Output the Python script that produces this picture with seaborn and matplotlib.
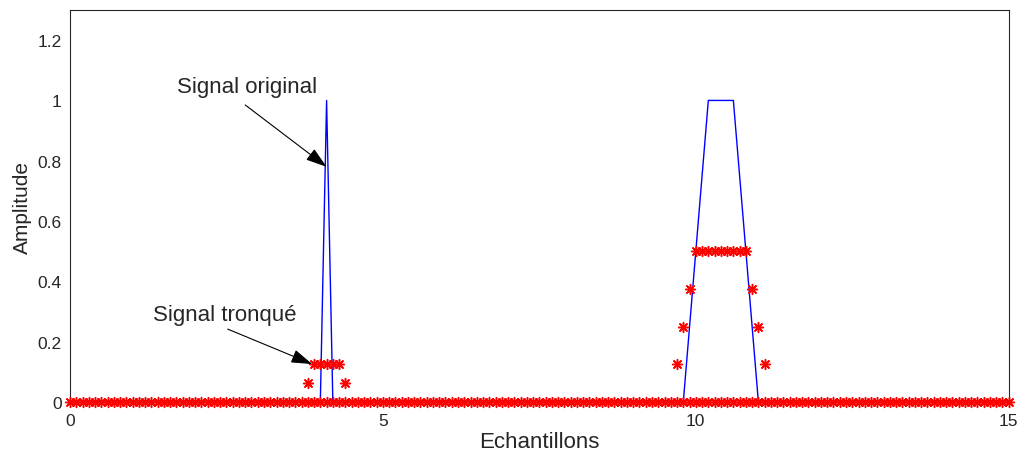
import numpy as np
import matplotlib
matplotlib.use("Agg")
import matplotlib.pyplot as plt
import seaborn as sns

# sample grid (step 0.1) for the truncated signal baseline
sample_x = np.round(np.arange(0, 151) * 0.1, 1)

# original signal (blue polyline)
orig_x = [0.0, 4.0, 4.1, 4.2, 9.8, 10.2, 10.6, 11.0, 15.0]
orig_y = [0.0, 0.0, 1.0, 0.0, 0.0, 1.0, 1.0, 0.0, 0.0]

# truncated signal, non-zero samples (red stars)
trunc_x = [3.8, 3.9, 4.0, 4.1, 4.2, 4.3, 4.4,
           9.7, 9.8, 9.9, 10.0, 10.1, 10.2, 10.3, 10.4, 10.5, 10.6, 10.7, 10.8,
           10.9, 11.0, 11.1]
trunc_y = [0.0625, 0.125, 0.125, 0.125, 0.125, 0.125, 0.0625,
           0.125, 0.25, 0.375, 0.5, 0.5, 0.5, 0.5, 0.5, 0.5, 0.5, 0.5, 0.5,
           0.375, 0.25, 0.125]

x_ticks = [0, 5, 10, 15]
y_ticks = [0, 0.2, 0.4, 0.6, 0.8, 1, 1.2]
y_labels = ["0", "0.2", "0.4", "0.6", "0.8", "1", "1.2"]

sns.set_style("white")
plt.rcParams['font.family'] = ['Liberation Sans', 'DejaVu Sans']

fig = plt.figure(figsize=(10.22, 4.56), dpi=100)
ax = fig.add_axes([0.0685, 0.116, 0.9185, 0.86])

sns.lineplot(x=orig_x, y=orig_y, sort=False, color="blue", linewidth=1, ax=ax)

star = (8, 2, 0)
sns.scatterplot(x=sample_x, y=np.zeros(len(sample_x)), marker=star, s=50,
                edgecolor="red", facecolor="red", linewidth=1.1, ax=ax,
                clip_on=False, zorder=3)
sns.scatterplot(x=trunc_x, y=trunc_y, marker=star, s=50,
                edgecolor="red", facecolor="red", linewidth=1.1, ax=ax,
                clip_on=False, zorder=3)

ax.set_xlim(0, 15)
ax.set_ylim(0, 1.3)
ax.set_xticks(x_ticks)
ax.set_yticks(y_ticks)
ax.set_yticklabels(y_labels)
ax.tick_params(direction="in", length=5, labelsize=12.5, colors="#262626",
               top=False, right=False)
ax.tick_params(axis="y", pad=6)
ax.tick_params(axis="x", pad=8)
for sp in ax.spines.values():
    sp.set_color("#262626")
    sp.set_linewidth(0.8)

ax.set_xlabel("Echantillons", fontsize=16, labelpad=2)
ax.set_ylabel("Amplitude", fontsize=15, labelpad=4)

arrow = dict(arrowstyle="-|>,head_length=1.3,head_width=0.42", color="black",
             lw=0.8, shrinkA=0, shrinkB=0, mutation_scale=10)
ax.annotate("", xy=(4.1, 0.78), xytext=(2.8, 0.985), arrowprops=arrow)
ax.text(2.83, 1.045, "Signal original", ha="center", va="center", fontsize=16)
ax.annotate("", xy=(3.87, 0.126), xytext=(2.52, 0.242), arrowprops=arrow)
ax.text(2.48, 0.29, "Signal tronqué", ha="center", va="center", fontsize=16)

fig.savefig("out.png", dpi=100)
